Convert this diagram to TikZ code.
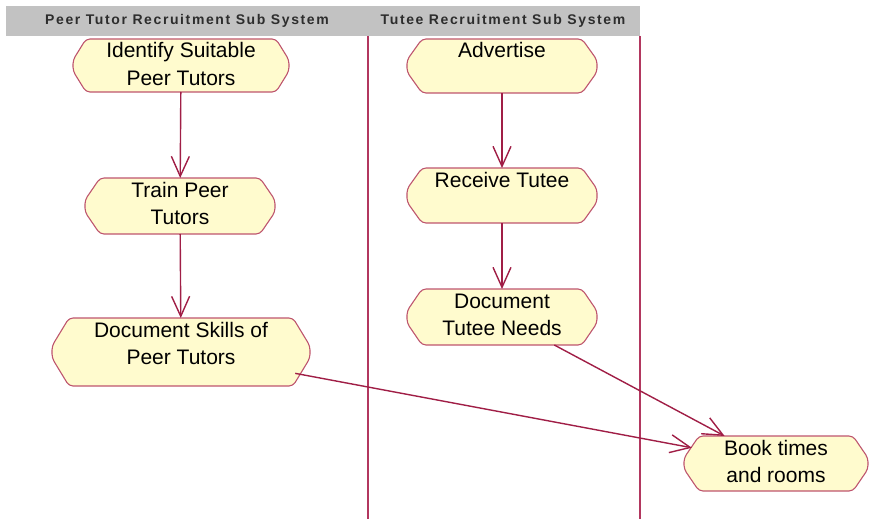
\documentclass[tikz,border=0pt]{standalone}
\usepackage{fontspec}
\setmainfont{Liberation Sans}
\newfontfamily\hdrfont[LetterSpace=11.5]{Liberation Sans}
\usetikzlibrary{arrows.meta}
\pgfdeclarelayer{bg}
\pgfsetlayers{bg,main}
\definecolor{actfill}{RGB}{255,251,206}
\definecolor{actdraw}{RGB}{190,85,110}
\definecolor{flowc}{RGB}{160,30,70}
\definecolor{lanec}{RGB}{178,55,95}
\definecolor{hdrbg}{RGB}{194,194,194}
\definecolor{hdrtxt}{RGB}{45,45,45}
\newcommand\acttext[3]{\parbox[c][#1][t]{#2}{\centering\fontsize{21}{27.5}\selectfont\rule{0pt}{19pt}#3\par}}
\newcommand\actshape[3]{%
  \path[actline] ([xshift=#2]#1.north west) -- ([xshift=-#2]#1.north east)
    -- ([yshift=-#3]#1.north east) -- ([yshift=#3]#1.south east)
    -- ([xshift=-#2]#1.south east) -- ([xshift=#2]#1.south west)
    -- ([yshift=#3]#1.south west) -- ([yshift=-#3]#1.north west) -- cycle;}
\tikzset{
  act/.style 2 args={rectangle, inner sep=0pt, outer sep=0pt, minimum width=#1, minimum height=#2},
  actline/.style={draw=actdraw, fill=actfill, line width=1.1pt, rounded corners=4pt},
  flow/.style={draw=flowc, line width=1.4pt, -{Straight Barb[length=20pt,width=18pt]}},
  lane/.style={draw=lanec, line width=1.3pt},
  hdr/.style={anchor=base, text=hdrtxt, inner sep=0pt, font=\hdrfont\bfseries\fontsize{14}{16}\selectfont}
}
\begin{document}
\begin{tikzpicture}[x=1pt,y=-1pt]
\useasboundingbox (0,0) rectangle (869,519);
\fill[hdrbg] (6,6) rectangle (640,36);
\node[hdr] (h1) at (187,25) {Peer Tutor Recruitment Sub System};
\node[hdr] (h2) at (503,25) {Tutee Recruitment Sub System};
\draw[lane] (368,36) -- (368,519);
\draw[lane] (640,36) -- (640,519);

\node[act={216pt}{53pt}] (ident) at (181,65.5) {\acttext{53pt}{180pt}{Identify Suitable\\Peer Tutors}};
\node[act={190pt}{56pt}] (train) at (180,206) {\acttext{56pt}{160pt}{Train Peer\\Tutors}};
\node[act={258pt}{68pt}] (skills) at (181,352) {\acttext{68pt}{220pt}{Document Skills of\\Peer Tutors}};
\node[act={190pt}{54pt}] (adv) at (502,66) {\acttext{54pt}{160pt}{Advertise}};
\node[act={190pt}{55pt}] (recv) at (502,195.5) {\acttext{55pt}{160pt}{Receive Tutee}};
\node[act={190pt}{56pt}] (needs) at (502,317) {\acttext{56pt}{160pt}{Document\\Tutee Needs}};
\node[act={184pt}{55pt}] (book) at (776,463.5) {\acttext{55pt}{150pt}{Book times\\and rooms}};

\begin{pgfonlayer}{bg}
\actshape{ident}{13pt}{21pt}
\actshape{train}{15pt}{22pt}
\actshape{skills}{17pt}{28pt}
\actshape{adv}{15pt}{21pt}
\actshape{recv}{15pt}{21pt}
\actshape{needs}{15pt}{22pt}
\actshape{book}{15pt}{22pt}
\end{pgfonlayer}

\draw[flow] (ident) -- (train);
\draw[flow] (train) -- (skills);
\draw[flow] (adv) -- (recv);
\draw[flow] (recv) -- (needs);
\draw[flow] (needs) -- (book);
\draw[flow, shorten <=-15pt, shorten >=-8pt] (skills) -- (book);
\end{tikzpicture}
\end{document}
